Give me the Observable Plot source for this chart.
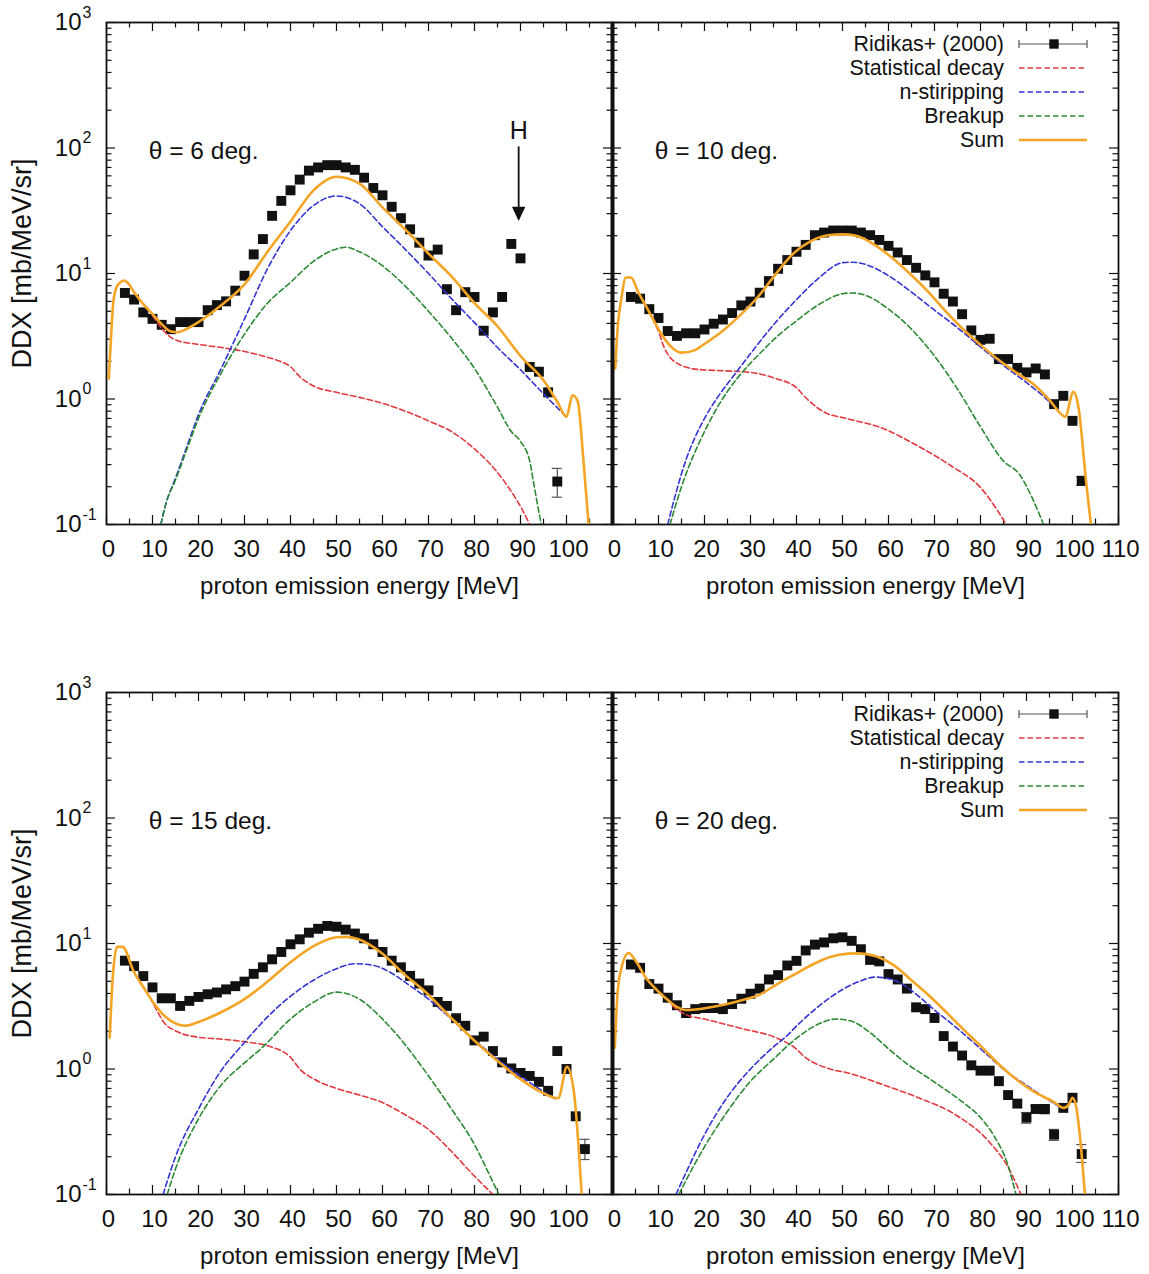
<!DOCTYPE html>
<html>
<head>
<meta charset="utf-8">
<script src="https://cdn.jsdelivr.net/npm/d3@7"></script>
<script src="https://cdn.jsdelivr.net/npm/@observablehq/plot@0.6"></script>
<style>
  html, body { margin: 0; padding: 0; background: #fff; overflow: hidden; }
  #figure { position: relative; width: 1149px; height: 1274px; }
  #figure svg { position: absolute; }
</style>
</head>
<body>
<div id="figure"></div>
<script>
const FONT = '"Liberation Sans", Arial, Helvetica, sans-serif';

// ---- Ridikas+ (2000) measured proton DDX [mb/MeV/sr] vs emission energy [MeV] ----
const exp6E = [4,6,8,10,12,14,16,18,20,22,24,26,28,30,32,34,36,38,40,42,44,46,48,50,52,54,56,58,60,62,64,66,68,70,72,74,76,78,80,82,84,86,88,90,92,94,96,98];
const exp6 = [7.0,6.2,4.9,4.35,3.9,3.6,4.1,4.1,4.1,5.1,5.6,6.0,7.3,9.6,14.2,18.8,28.8,37.9,46,56,66,70,73,73,70,67,58,48,42,34,27.6,22.5,17.6,13.9,15.5,7.5,5.1,7.1,6.5,3.5,4.9,6.5,17.2,13.2,1.8,1.65,1.13,0.22];

const exp10E = [4,6,8,10,12,14,16,18,20,22,24,26,28,30,32,34,36,38,40,42,44,46,48,50,52,54,56,58,60,62,64,66,68,70,72,74,76,78,80,82,84,86,88,90,92,94,96,98,100,102];
const exp10 = [6.5,6.3,5.2,4.42,3.48,3.18,3.34,3.34,3.58,3.98,4.30,4.84,5.57,5.98,7.03,8.7,10.9,12.8,14.9,16.9,20.2,21.2,22,22,22,21.2,20.2,18.5,16.6,14.7,12.8,11.1,9.66,8.5,6.9,5.98,4.74,3.52,2.96,3.02,2.08,2.08,1.77,1.63,1.75,1.57,0.91,1.06,0.67,0.223];

const exp15E = [4,6,8,10,12,14,16,18,20,22,24,26,28,30,32,34,36,38,40,42,44,46,48,50,52,54,56,58,60,62,64,66,68,70,72,74,76,78,80,82,84,86,88,90,92,94,96,98,100,102,104];
const exp15 = [7.3,6.6,5.5,4.47,3.66,3.66,3.18,3.49,3.75,3.94,4.07,4.31,4.57,4.97,5.73,6.46,7.48,8.56,9.86,10.8,12.2,13.1,13.8,13.6,12.9,12.0,11.0,9.86,8.56,7.3,6.46,5.52,4.8,4.23,3.42,3.18,2.54,2.21,1.69,1.81,1.39,1.13,1.01,0.93,0.88,0.79,0.67,1.39,1.0,0.42,0.23];

const exp20E = [4,6,8,10,12,14,16,18,20,22,24,26,28,30,32,34,36,38,40,42,44,46,48,50,52,54,56,58,60,62,64,66,68,70,72,74,76,78,80,82,84,86,88,90,92,94,96,98,100,102];
const exp20 = [6.8,6.4,4.75,4.37,3.7,3.22,2.79,3.0,3.06,3.06,3.0,3.29,3.63,3.98,4.37,5.17,5.6,6.68,7.27,8.8,9.8,10.2,11.0,11.2,10.5,9.0,7.4,7.2,5.7,5.17,4.37,3.1,3.0,2.55,1.83,1.51,1.28,1.07,0.97,0.97,0.80,0.62,0.53,0.41,0.48,0.48,0.30,0.49,0.59,0.21];

// error bars that are larger than the symbols
const err6 = [{E: 98, lo: 0.165, hi: 0.28}];
const err10 = [{E: 102, lo: 0.205, hi: 0.24}];
const err15 = [{E: 104, lo: 0.19, hi: 0.275}];
const err20 = [{E: 90, lo: 0.37, hi: 0.45}, {E: 92, lo: 0.45, hi: 0.51}, {E: 94, lo: 0.44, hi: 0.52}, {E: 96, lo: 0.27, hi: 0.33}, {E: 102, lo: 0.18, hi: 0.25}];

// ---- calculated components, [E, DDX] ----
const stat6 = [[10,4.6],[11,4.1],[12,3.66],[13.5,3.2],[15,2.96],[20,2.72],[25,2.57],[30,2.39],[35,2.15],[38,1.98],[40,1.81],[42,1.51],[45,1.27],[50,1.13],[55,1.03],[60,0.925],[65,0.80],[70,0.67],[75,0.55],[80,0.40],[85,0.26],[88,0.183],[90.5,0.129],[92,0.1]];
const strip6 = [[11.8,0.1],[13,0.15],[15,0.234],[17.5,0.42],[20,0.75],[25,1.77],[30,4.35],[35,10.9],[40,22],[45,34.8],[50,41.5],[55,36],[60,23.6],[65,15.5],[70,10],[75,6.3],[80,4.06],[85,2.57],[90,1.71],[95,1.1],[100,0.72]];
const breakup6 = [[11.8,0.1],[13,0.15],[15,0.226],[17.5,0.4],[20,0.70],[25,1.63],[30,3.29],[35,5.8],[40,8.5],[45,12.5],[50,15.7],[52,16.2],[55,14.9],[60,11.5],[65,7.9],[70,5.0],[75,3.06],[80,1.75],[85,0.86],[88,0.55],[90,0.46],[92,0.32],[93,0.2],[94.5,0.1]];
const sum6 = [[0.5,1.46],[1,3.2],[1.5,6.0],[2.2,7.8],[3,8.5],[3.7,8.8],[4.5,8.5],[6,7.1],[8,5.7],[10,4.75],[12,3.95],[14,3.45],[15.5,3.4],[17,3.55],[20,4.1],[25,5.6],[30,8.2],[35,14.9],[40,26],[45,46],[50,59],[55,52],[60,33.6],[65,22.3],[70,14.4],[75,9.5],[80,5.8],[85,3.8],[90,2.2],[95,1.41],[98,0.95],[100,0.72],[101.3,1.07],[102.4,0.97],[103.7,0.32],[104.8,0.1]];

const stat10 = [[9.5,3.8],[10.2,3.3],[11,2.7],[12.5,2.15],[14.7,1.87],[18.6,1.72],[24,1.68],[30,1.63],[35.4,1.46],[40,1.23],[42.3,1.0],[46.2,0.78],[50.8,0.70],[58.4,0.59],[66,0.43],[73.8,0.29],[80,0.197],[83.7,0.129],[85.6,0.1]];
const strip10 = [[12,0.1],[14,0.19],[16,0.33],[18,0.5],[20,0.7],[23,1.05],[27,1.65],[30,2.3],[35,3.9],[40,6.2],[45,9.3],[50,12.2],[52,12.3],[55,11.8],[60,9.6],[65,7.1],[70,5.1],[75,3.7],[80,2.6],[85,1.85],[90,1.35],[95,0.95],[97.5,0.76]];
const breakup10 = [[12.5,0.1],[15,0.2],[20,0.55],[25,1.15],[28.5,1.68],[32,2.3],[36,3.2],[40,4.2],[45,5.7],[50,6.9],[52,7.0],[55,6.7],[60,5.2],[65,3.6],[70,2.2],[75,1.2],[80,0.6],[85,0.32],[88.5,0.25],[91,0.17],[93.7,0.1]];
const sum10 = [[0.6,1.75],[1.2,4.0],[1.9,6.2],[2.9,9.3],[4.0,9.3],[5.6,7.1],[7.9,5.0],[10.2,3.5],[12.5,2.66],[15,2.34],[17.8,2.44],[20,2.75],[24,3.5],[28,4.74],[31.6,6.5],[35.4,9.8],[39.3,14.4],[43.1,18.1],[46.9,20.2],[50,20.5],[53,20],[57,16.9],[60.7,13.4],[64.6,10],[68.4,7.3],[72.2,5.1],[76,3.66],[80,2.7],[83.7,2.08],[87.5,1.65],[91.4,1.32],[95.2,0.96],[97.5,0.76],[98.4,0.72],[100.2,1.14],[101.3,0.86],[102.9,0.23],[104,0.1]];

const stat15 = [[9.5,3.7],[10.2,3.3],[11,2.9],[12.5,2.35],[15.3,1.99],[20,1.79],[25,1.73],[30,1.65],[35,1.53],[40,1.24],[42,1.0],[45.4,0.82],[50,0.70],[55,0.62],[60,0.54],[65,0.43],[70,0.33],[75,0.22],[80,0.14],[84,0.1]];
const strip15 = [[12.3,0.1],[15,0.2],[20,0.48],[25,0.98],[29.5,1.55],[35,2.6],[40,3.8],[45,5.1],[50,6.3],[54,6.9],[58,6.7],[62,5.8],[66,4.6],[70,3.6],[75,2.5],[80,1.7],[85,1.2],[90,0.88],[95,0.66],[97.5,0.58]];
const breakup15 = [[13.2,0.1],[15,0.16],[20,0.4],[25,0.75],[30,1.12],[34,1.5],[40,2.5],[45,3.4],[50,4.1],[55,3.6],[60,2.5],[65,1.55],[70,0.88],[75,0.48],[80,0.25],[83,0.15],[85.3,0.1]];
const sum15 = [[0.7,1.78],[1.3,5.0],[2.3,9.4],[3.5,9.4],[5.9,6.0],[8,4.5],[10.2,3.37],[12.7,2.63],[15.3,2.28],[17,2.21],[20,2.37],[24.8,2.82],[30,3.6],[35,4.97],[40,7.1],[45.4,9.7],[50,11.2],[52.2,11.3],[54.8,10.8],[59.8,8.4],[64.7,5.7],[69.7,4.0],[74.6,2.63],[79.7,1.72],[84.4,1.21],[89.6,0.85],[94.3,0.66],[98.2,0.585],[100.1,1.04],[101.6,0.66],[103.3,0.1]];

const stat20 = [[13,3.2],[14.2,2.95],[15.8,2.73],[20.4,2.48],[28.1,2.1],[35.8,1.76],[39.6,1.48],[41.9,1.24],[47.3,1.0],[51.2,0.93],[58.8,0.75],[66.5,0.59],[74.2,0.44],[82,0.26],[85.8,0.17],[88.8,0.1]];
const strip20 = [[13.8,0.1],[16,0.15],[20,0.3],[25,0.6],[30,1.0],[35,1.5],[38,1.85],[40,2.2],[45,3.2],[50,4.3],[55,5.2],[57,5.4],[60,5.25],[63,4.75],[66,3.95],[70,2.95],[75,2.1],[80,1.45],[85,1.0],[90,0.74],[95,0.56],[97.5,0.49]];
const breakup20 = [[14.4,0.1],[16,0.13],[20,0.24],[25,0.46],[30,0.8],[35,1.2],[39.5,1.7],[45,2.3],[48.5,2.5],[52,2.4],[56,1.95],[60,1.45],[64,1.1],[68,0.88],[72,0.7],[76,0.55],[80,0.41],[83,0.29],[86,0.17],[87.7,0.1]];
const sum20 = [[0.5,1.48],[1.1,4.0],[1.9,6.3],[3.5,8.4],[5,7.3],[7.3,5.3],[9.6,4.27],[11.9,3.58],[14.2,3.1],[15.8,2.95],[18,2.98],[20.4,3.06],[24.2,3.25],[28.1,3.53],[31.9,3.9],[35.8,4.75],[39.6,5.68],[43.5,6.8],[47.3,7.8],[51.2,8.3],[53.5,8.35],[57.3,7.9],[61.2,6.7],[65,5.1],[68.8,3.85],[72.7,2.8],[76.5,2.03],[80.4,1.48],[84.2,1.07],[88.1,0.81],[91.9,0.65],[95.8,0.55],[98.1,0.49],[99.2,0.52],[100,0.59],[100.8,0.5],[101.5,0.32],[102.7,0.1]];

// ---- axes, labels ----
const xMajor = [0,10,20,30,40,50,60,70,80,90,100,110];
const xMinor = [5,15,25,35,45,55,65,75,85,95,105];
const xTickLabelsLeft = [0,10,20,30,40,50,60,70,80,90,100];
const xTickLabelsRight = [0,10,20,30,40,50,60,70,80,90,100,110];
const yMajor = [0.1,1,10,100,1000];
const yExponents = ["-1","0","1","2","3"];
const yMinor = [0.2,0.3,0.4,0.5,0.6,0.7,0.8,0.9,2,3,4,5,6,7,8,9,20,30,40,50,60,70,80,90,200,300,400,500,600,700,800,900];
const xAxisTitle = "proton emission energy [MeV]";
const yAxisTitle = "DDX [mb/MeV/sr]";
const angleLabels = ["θ = 6 deg.", "θ = 10 deg.", "θ = 15 deg.", "θ = 20 deg."];
const angleLabelAt = {E: 9.2, ddx: 94};
const legendLabels = ["Ridikas+ (2000)", "Statistical decay", "n-stiripping", "Breakup", "Sum"];
// "H" marker pointing at the hydrogen peak in the 6 deg. spectrum
const hMarker = {E: 89.6, text: 137, top: 103, tip: 26.2};

const INK = "#111";
const colors = {stat: "#e23a40", strip: "#3434d2", breakup: "#2d8a34", sum: "#f4a526", err: "#555"};
const DASH = "5.5,3";
const FRAME_W = 506, FRAME_H = 502;
const rowTop = [0, 670];
const colLeft = [0, 600];

const panels = [
  {row: 0, col: 0, angle: angleLabels[0], expE: exp6E, exp: exp6, err: err6, stat: stat6, strip: strip6, breakup: breakup6, sum: sum6, marker: true},
  {row: 0, col: 1, angle: angleLabels[1], expE: exp10E, exp: exp10, err: err10, stat: stat10, strip: strip10, breakup: breakup10, sum: sum10},
  {row: 1, col: 0, angle: angleLabels[2], expE: exp15E, exp: exp15, err: err15, stat: stat15, strip: strip15, breakup: breakup15, sum: sum15},
  {row: 1, col: 1, angle: angleLabels[3], expE: exp20E, exp: exp20, err: err20, stat: stat20, strip: strip20, breakup: breakup20, sum: sum20}
];

// filled triangle whose tip sits on the anchor point, pointing down
const downTriangle = {
  draw(context, size) {
    const s = Math.sqrt(size);
    const hw = s * 0.42, h = s * 0.9;
    context.moveTo(-hw, -h);
    context.lineTo(hw, -h);
    context.lineTo(0, 0);
    context.closePath();
  }
};

function curve(points, stroke, dashed, width) {
  const opts = {x: d => d[0], y: d => d[1], stroke, strokeWidth: width, curve: "monotone-x", clip: true};
  if (dashed) opts.strokeDasharray = DASH;
  return Plot.line(points, opts);
}

function drawPanel(p) {
  const left = p.col === 0;
  const mL = left ? 106 : 12, mR = left ? 14 : 31, mT = 22, mB = 78;
  const rows = p.expE.map((E, i) => ({E, v: p.exp[i]}));
  const tickStyle = {stroke: INK, strokeWidth: 1.2};

  const marks = [
    // inward ticks on all four sides
    Plot.tickX(xMajor, {x: d => d, insetTop: FRAME_H - 9, ...tickStyle}),
    Plot.tickX(xMajor, {x: d => d, insetBottom: FRAME_H - 9, ...tickStyle}),
    Plot.tickX(xMinor, {x: d => d, insetTop: FRAME_H - 5.5, ...tickStyle}),
    Plot.tickX(xMinor, {x: d => d, insetBottom: FRAME_H - 5.5, ...tickStyle}),
    Plot.tickY(yMajor, {y: d => d, insetRight: FRAME_W - 9, ...tickStyle}),
    Plot.tickY(yMajor, {y: d => d, insetLeft: FRAME_W - 9, ...tickStyle}),
    Plot.tickY(yMinor, {y: d => d, insetRight: FRAME_W - 5.5, ...tickStyle}),
    Plot.tickY(yMinor, {y: d => d, insetLeft: FRAME_W - 5.5, ...tickStyle}),
    Plot.frame({stroke: INK, strokeWidth: 1.8}),
    Plot.text(left ? xTickLabelsLeft : xTickLabelsRight, {x: d => d, frameAnchor: "bottom", lineAnchor: "middle", dx: 2, dy: 25, fontSize: 24, fill: INK}),
    Plot.text([xAxisTitle], {frameAnchor: "bottom", lineAnchor: "middle", dy: 62, fontSize: 24, fill: INK}),
    Plot.text([p.angle], {x: angleLabelAt.E, y: angleLabelAt.ddx, textAnchor: "start", fontSize: 24.5, fill: INK}),
    // measured points with error bars
    Plot.ruleX(p.err, {x: "E", y1: "lo", y2: "hi", stroke: colors.err, strokeWidth: 1.2}),
    Plot.ruleY(p.err, {y: "lo", x1: d => d.E - 1.1, x2: d => d.E + 1.1, stroke: colors.err, strokeWidth: 1.2}),
    Plot.ruleY(p.err, {y: "hi", x1: d => d.E - 1.1, x2: d => d.E + 1.1, stroke: colors.err, strokeWidth: 1.2}),
    Plot.dot(rows, {x: "E", y: "v", symbol: "square", r: 5.6, fill: INK, stroke: "none"}),
    // calculated components and their sum
    curve(p.stat, colors.stat, true, 1.6),
    curve(p.strip, colors.strip, true, 1.6),
    curve(p.breakup, colors.breakup, true, 1.6),
    curve(p.sum, colors.sum, false, 2.6)
  ];

  if (left) {
    marks.push(Plot.text(yMajor, {y: d => d, frameAnchor: "left", dx: -25, textAnchor: "end", text: () => "10", fontSize: 24, fill: INK}));
    marks.push(Plot.text(yMajor, {y: d => d, frameAnchor: "left", dx: -24, dy: -10, textAnchor: "start", text: (d, i) => yExponents[i], fontSize: 16, fill: INK}));
    marks.push(Plot.text([yAxisTitle], {frameAnchor: "left", textAnchor: "middle", lineAnchor: "middle", dx: -84, dy: -10, rotate: -90, fontSize: 27, fill: INK}));
  } else {
    // shared border between neighbouring panels
    marks.push(Plot.ruleX([0], {stroke: INK, strokeWidth: 4}));
  }

  if (p.marker) {
    marks.push(Plot.text(["H"], {x: hMarker.E, y: hMarker.text, fontSize: 25, fill: INK}));
    marks.push(Plot.link([hMarker], {x1: "E", y1: "top", x2: "E", y2: d => d.tip * 1.2, stroke: INK, strokeWidth: 1.8}));
    marks.push(Plot.dot([hMarker], {x: "E", y: "tip", symbol: downTriangle, r: 9, fill: INK, stroke: "none"}));
  }

  const svg = Plot.plot({
    width: mL + FRAME_W + mR,
    height: mT + FRAME_H + mB,
    marginLeft: mL, marginRight: mR, marginTop: mT, marginBottom: mB,
    style: {background: "transparent", overflow: "visible", fontFamily: FONT, color: INK},
    x: {domain: [0, 110], axis: null},
    y: {type: "log", domain: [0.1, 1000], axis: null},
    marks
  });
  svg.style.left = colLeft[p.col] + "px";
  svg.style.top = rowTop[p.row] + "px";

  if (!left) {
    // key in the upper right corner
    const fr = mL + FRAME_W, ft = mT;
    const g = d3.select(svg).append("g")
      .attr("font-family", FONT).attr("font-size", 21.4).attr("fill", INK);
    const styles = [null, colors.stat, colors.strip, colors.breakup, colors.sum];
    legendLabels.forEach((label, i) => {
      const y = ft + 22 + i * 24;
      g.append("text").attr("x", fr - 114).attr("y", y).attr("dy", "0.35em")
        .attr("text-anchor", "end").text(label);
      const x0 = fr - 99, x1 = fr - 31;
      if (i === 0) {
        g.append("line").attr("x1", x0).attr("x2", x1).attr("y1", y).attr("y2", y)
          .attr("stroke", colors.err).attr("stroke-width", 1.2);
        [x0, x1].forEach(x => g.append("line").attr("x1", x).attr("x2", x)
          .attr("y1", y - 4).attr("y2", y + 4).attr("stroke", colors.err).attr("stroke-width", 1.2));
        g.append("rect").attr("x", fr - 64 - 4.7).attr("y", y - 4.7).attr("width", 9.4).attr("height", 9.4).attr("fill", INK);
      } else {
        const ln = g.append("line").attr("x1", x0).attr("x2", x1).attr("y1", y).attr("y2", y)
          .attr("stroke", styles[i]).attr("stroke-width", i === 4 ? 2.6 : 1.6);
        if (i !== 4) ln.attr("stroke-dasharray", DASH);
      }
    });
  }
  document.getElementById("figure").appendChild(svg);
}

panels.forEach(drawPanel);
</script>
</body>
</html>
